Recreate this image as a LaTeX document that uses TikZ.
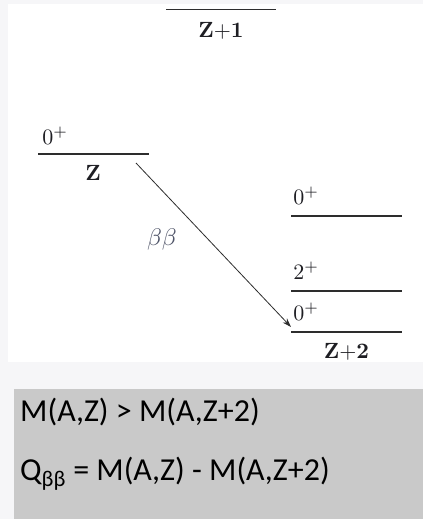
\documentclass[tikz,border=0pt]{standalone}
\usepackage{fontspec}
\usepackage{tikz}
\usetikzlibrary{arrows.meta,positioning,calc}
\newfontfamily\carlito{Carlito}
\definecolor{lvl}{RGB}{45,45,45}
\definecolor{txt}{RGB}{30,30,35}
\definecolor{bbtxt}{RGB}{80,85,105}
\definecolor{page}{RGB}{246,246,248}
\definecolor{note}{RGB}{201,201,201}
\tikzset{
  level/.style={draw=lvl, line width=1.1pt},
  spin/.style={text=txt, inner sep=0pt, anchor=base west, scale=2.2, transform shape},
  nuc/.style={text=txt, inner sep=0pt, scale=2.2, transform shape},
  decay/.style={draw=lvl, line width=0.8pt, -{Stealth[length=9pt,width=6pt]}},
  eqn/.style={text=black, inner sep=0pt, anchor=base west, font=\carlito\fontsize{32}{36}\selectfont}
}
\begin{document}
\begin{tikzpicture}[x=1pt,y=1pt]
  \useasboundingbox (0,0) rectangle (423,-519);
  % backgrounds
  \fill[page] (0,0) rectangle (423,-519);
  \fill[white] (8,-4) rectangle (423,-362);
  \fill[note] (14,-389) rectangle (423,-519);
  % intermediate nucleus
  \draw[level] (166,-9.5) coordinate (zaL) -- (276,-9.5) coordinate (zaR);
  \node[nuc] (za) at ($(zaL)!0.5!(zaR)+(0,-21)$) {\textbf{Z}+\textbf{1}};
  % parent
  \draw[level] (38,-154) coordinate (zL) -- (149,-154) coordinate (zR);
  \node[spin] (zspin) at ([shift={(4,10)}]zL) {$0^+$};
  \node[nuc] (z) at (93,-173) {\textbf{Z}};
  % daughter levels
  \foreach \y/\j/\nm in {216/0/ex0, 291/2/ex2, 332/0/gs}{
    \draw[level] (291,-\y) coordinate (\nm L) -- (402,-\y) coordinate (\nm R);
    \node[spin] (\nm spin) at ([shift={(2,12)}]\nm L) {$\j^+$};
  }
  \node[nuc] (zb) at ($(gsL)!0.5!(gsR)+(0,-20)$) {\textbf{Z}+\textbf{2}};
  % double beta decay
  \coordinate (dstart) at (136,-163);
  \draw[decay] (dstart) -- ([shift={(0,5)}]gsL);
  \node[text=bbtxt, inner sep=0pt, scale=2.4, transform shape] (bb) at (162,-239) {$\beta\beta$};
  % mass condition
  \node[eqn] (cond) at (20,-421) {M(A,Z) > M(A,Z+2)};
  \node[eqn] (qval) at (20,-480) {Q\textsubscript{ββ} = M(A,Z) - M(A,Z+2)};
\end{tikzpicture}
\end{document}
